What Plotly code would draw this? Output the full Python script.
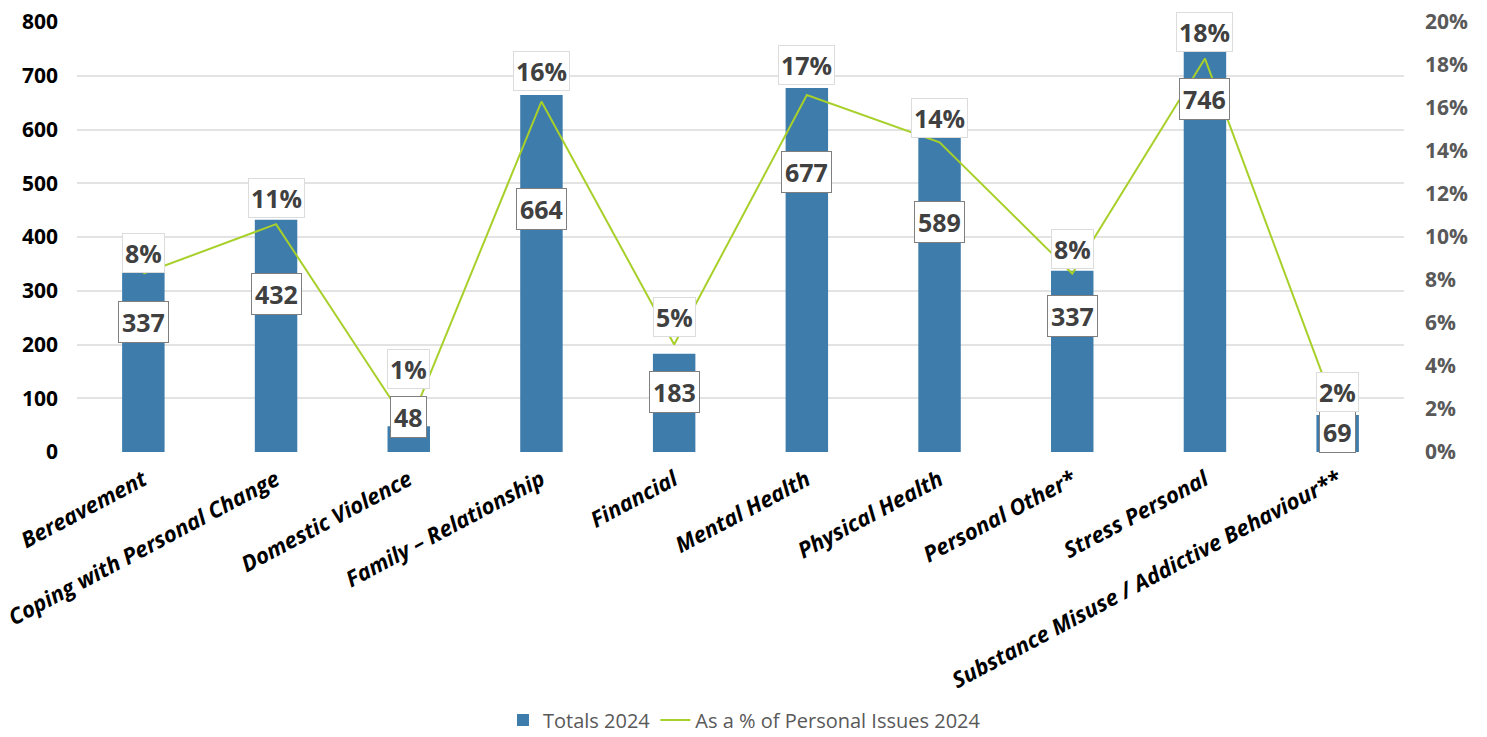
import plotly.graph_objects as go

# Personal issues 2024
categories = [
    "Bereavement",
    "Coping with Personal Change",
    "Domestic Violence",
    "Family – Relationship",
    "Financial",
    "Mental Health",
    "Physical Health",
    "Personal Other*",
    "Stress Personal",
    "Substance Misuse / Addictive Behaviour**",
]
totals_2024 = [337, 432, 48, 664, 183, 677, 589, 337, 746, 69]
share_2024 = [0.083, 0.106, 0.012, 0.163, 0.050, 0.166, 0.144, 0.083, 0.183, 0.017]

left_ticks = [0, 100, 200, 300, 400, 500, 600, 700, 800]
right_ticks = [0, 0.02, 0.04, 0.06, 0.08, 0.10, 0.12, 0.14, 0.16, 0.18, 0.20]

# Label placement (pixel shifts relative to the mark they describe)
total_label_drop = [51, 74, -9, 114, 38, 84, 87, 45, 48, 17]
share_label_lift = [21, 26, 57, 31, 28, 30, 24, 25, 27, 23]

BAR_COLOR = "#3E7CAB"
LINE_COLOR = "#A8D02A"
LABEL_TEXT = "#404040"
FONT = "Open Sans"

fig = go.Figure()

fig.add_trace(go.Bar(
    x=categories,
    y=totals_2024,
    name="Totals 2024",
    marker=dict(color=BAR_COLOR, line=dict(width=0)),
    width=0.32,
    yaxis="y",
))

fig.add_trace(go.Scatter(
    x=categories,
    y=share_2024,
    name="As a % of Personal Issues 2024",
    mode="lines",
    line=dict(color=LINE_COLOR, width=2),
    yaxis="y2",
))

annotations = []
for cat, val, drop in zip(categories, totals_2024, total_label_drop):
    annotations.append(dict(
        x=cat, y=val, xref="x", yref="y",
        text=str(val), showarrow=False,
        yanchor="middle", yshift=-drop,
        font=dict(family=FONT, size=25, color=LABEL_TEXT, weight="bold"),
        bgcolor="white", bordercolor="#7F7F7F", borderwidth=1, borderpad=3,
    ))
for cat, val, lift in zip(categories, share_2024, share_label_lift):
    annotations.append(dict(
        x=cat, y=val, xref="x", yref="y2",
        text=f"{val:.0%}", showarrow=False,
        yanchor="middle", yshift=lift,
        font=dict(family=FONT, size=25, color=LABEL_TEXT, weight="bold"),
        bgcolor="white", bordercolor="#DCDCDC", borderwidth=1, borderpad=2,
    ))

fig.update_layout(
    width=1487,
    height=737,
    margin=dict(l=77, r=83, t=22, b=285, autoexpand=False),
    paper_bgcolor="white",
    plot_bgcolor="white",
    font=dict(family=FONT),
    bargap=0.68,
    showlegend=True,
    legend=dict(
        orientation="h",
        x=0.503, xanchor="center",
        y=-0.623, yanchor="middle",
        font=dict(family=FONT, size=20, color="#595959"),
        itemwidth=30,
        tracegroupgap=0,
    ),
    xaxis=dict(
        tickangle=-28,
        tickfont=dict(family=FONT, size=22, color="black", weight="bold", style="italic"),
        ticklabelstandoff=10,
        showgrid=False,
        showline=False,
        zeroline=False,
        automargin=False,
    ),
    yaxis=dict(
        range=[0, 800],
        tickvals=left_ticks,
        tickfont=dict(family=FONT, size=21, color="black", weight="bold"),
        showgrid=True,
        gridcolor="#E3E3E3",
        gridwidth=1.5,
        zeroline=False,
        ticklabelstandoff=18,
        automargin=False,
    ),
    yaxis2=dict(
        range=[0, 0.20],
        tickvals=right_ticks,
        tickformat=".0%",
        overlaying="y",
        side="right",
        tickfont=dict(family=FONT, size=21, color="#595959", weight="bold"),
        showgrid=False,
        zeroline=False,
        ticklabelstandoff=20,
        automargin=False,
    ),
    annotations=annotations,
)

fig.write_html("out.html")
